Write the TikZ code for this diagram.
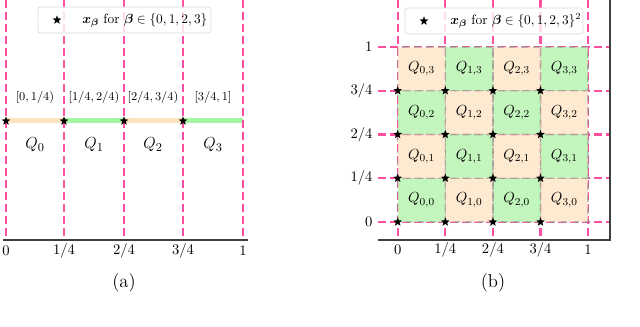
\documentclass[tikz,border=0pt]{standalone}
\usepackage{amsmath,bm}
\usetikzlibrary{shapes.geometric}
\definecolor{gpink}{RGB}{255,80,160}
\definecolor{corange}{RGB}{253,230,200}
\definecolor{cgreen}{RGB}{184,245,178}
\definecolor{borange}{RGB}{253,227,190}
\definecolor{bgreen}{RGB}{164,245,160}
\begin{document}
\begin{tikzpicture}[x=0.75pt,y=-0.75pt,
  pinkline/.style={gpink, line width=1.7pt, dash pattern=on 6pt off 3pt},
  starmark/.style={star, star points=5, star point ratio=2.4, fill=black, inner sep=0pt, minimum size=7pt},
  legendbox/.style={draw=black!15, rounded corners=2pt, fill=white, fill opacity=0.8, line width=0.5pt},
  axisline/.style={black!75, line width=0.8pt},
  ticklab/.style={font=\fontsize{10.5}{12}\selectfont, inner sep=1pt},
  intlab/.style={font=\fontsize{9}{11}\selectfont},
  qlabA/.style={font=\fontsize{13}{15}\selectfont},
  qlabB/.style={font=\fontsize{11}{13}\selectfont},
  leglab/.style={font=\fontsize{10.1}{12}\selectfont, anchor=west, inner sep=0pt},
  caplab/.style={font=\fontsize{14}{16}\selectfont},
  cellfill/.style={fill opacity=0.85},
  cellborder/.style={draw=black!45, draw opacity=0.5, line width=1pt, dash pattern=on 5pt off 4pt}
]
\useasboundingbox (0,0) rectangle (640,327);

% ---------------- panel (a) ----------------
\fill[borange] (6,118.5) rectangle (64,123.5);
\fill[bgreen] (64,118.5) rectangle (124,123.5);
\fill[borange] (124,118.5) rectangle (183,123.5);
\fill[bgreen] (183,118.5) rectangle (243,123.5);
\foreach \x in {6,64,124,183,243} \draw[pinkline] (\x,0) -- (\x,240);
\draw[axisline] (3,240) -- (248,240);
\foreach \x/\n in {6/0,64/1,124/2,183/3} \node[starmark] (sa\n) at (\x,121) {};
\node[intlab] (ia0) at (35,98) {$[0,1/4)$};
\node[intlab] (ia1) at (94,98) {$[1/4,2/4)$};
\node[intlab] (ia2) at (153,98) {$[2/4,3/4)$};
\node[intlab] (ia3) at (213,98) {$[3/4,1]$};
\node[qlabA] (qa0) at (35,145) {$Q_0$};
\node[qlabA] (qa1) at (94,145) {$Q_1$};
\node[qlabA] (qa2) at (153,145) {$Q_2$};
\node[qlabA] (qa3) at (213,145) {$Q_3$};
\node[ticklab] (ta0) at (6,251) {$0$};
\node[ticklab] (ta1) at (64,251) {$1/4$};
\node[ticklab] (ta2) at (124,251) {$2/4$};
\node[ticklab] (ta3) at (183,251) {$3/4$};
\node[ticklab] (ta4) at (243,251) {$1$};
\draw[legendbox] (38,7) rectangle (211,33);
\node[starmark] (lsa) at (57,20) {};
\node[leglab] (lta) at (82,20) {$\bm{x}_{\bm{\beta}}$ for $\bm{\beta}\in\{0,1,2,3\}$};
\node[caplab] (capa) at (124,283) {(a)};

% ---------------- panel (b) ----------------
\foreach \i in {0,...,4} \draw[pinkline] ({397.7+47.6*\i},0) -- ({397.7+47.6*\i},240);
\foreach \j in {0,...,4} \draw[pinkline] (378,{222-43.75*\j}) -- (610,{222-43.75*\j});
\foreach \i in {0,...,3} {
  \foreach \j in {0,...,3} {
    \pgfmathtruncatemacro{\cpar}{mod(\i+\j,2)}
    \ifnum\cpar=1 \def\cc{corange}\else\def\cc{cgreen}\fi
    \fill[\cc, cellfill] ({397.7+47.6*\i},{222-43.75*\j}) rectangle ({397.7+47.6*(\i+1)},{222-43.75*(\j+1)});
  }
}
\foreach \i in {0,...,3} {
  \foreach \j in {0,...,3} {
    \draw[cellborder] ({397.7+47.6*\i},{222-43.75*\j}) rectangle ({397.7+47.6*(\i+1)},{222-43.75*(\j+1)});
  }
}
\foreach \i in {0,...,3} {
  \foreach \j in {0,...,3} {
    \node[qlabB] (qb\i\j) at ({397.7+47.6*(\i+0.5)},{222-43.75*(\j+0.5)}) {$Q_{\i,\j}$};
    \node[starmark] (sb\i\j) at ({397.7+47.6*\i},{222-43.75*\j}) {};
  }
}
\draw[axisline] (378,240) -- (610,240) -- (610,0);
\node[ticklab] (tbx0) at (397.7,250) {$0$};
\node[ticklab] (tbx1) at (445.3,250) {$1/4$};
\node[ticklab] (tbx2) at (492.9,250) {$2/4$};
\node[ticklab] (tbx3) at (540.5,250) {$3/4$};
\node[ticklab] (tbx4) at (588.1,250) {$1$};
\node[ticklab, anchor=east] (tby0) at (374,222) {$0$};
\node[ticklab, anchor=east] (tby1) at (374,178.25) {$1/4$};
\node[ticklab, anchor=east] (tby2) at (374,134.5) {$2/4$};
\node[ticklab, anchor=east] (tby3) at (374,90.75) {$3/4$};
\node[ticklab, anchor=east] (tby4) at (374,47) {$1$};
\draw[legendbox] (405,8) rectangle (583,34);
\node[starmark] (lsb) at (424,21) {};
\node[leglab] (ltb) at (450,21) {$\bm{x}_{\bm{\beta}}$ for $\bm{\beta}\in\{0,1,2,3\}^2$};
\node[caplab] (capb) at (493,283) {(b)};
\end{tikzpicture}
\end{document}
